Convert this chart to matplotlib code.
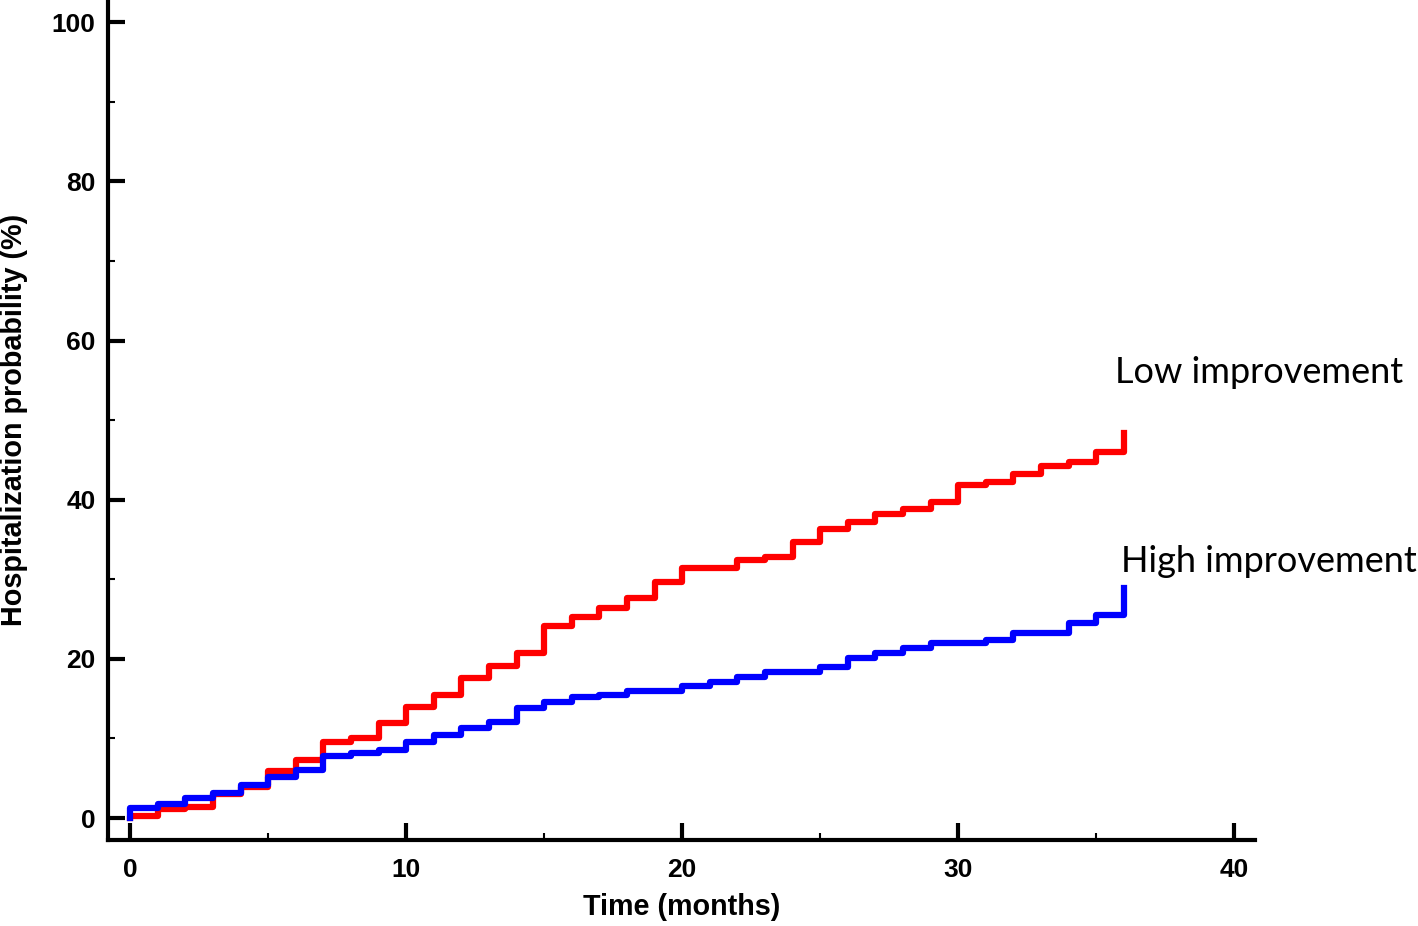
import matplotlib.pyplot as plt
from matplotlib.ticker import MultipleLocator

plt.rcParams['font.family'] = ['Liberation Sans', 'DejaVu Sans']

# months 0..36, cumulative hospitalization probability (%)
months = list(range(37))
low_improvement = [0.2, 1.1, 1.4, 3.0, 3.9, 5.9, 7.3, 9.5, 10.1, 12.0,
                   14.0, 15.4, 17.6, 19.1, 20.8, 24.1, 25.2, 26.4, 27.6, 29.7,
                   31.4, 31.4, 32.4, 32.8, 34.7, 36.3, 37.2, 38.2, 38.8, 39.7,
                   41.8, 42.2, 43.2, 44.3, 44.8, 46.0, 48.4]
high_improvement = [1.2, 1.8, 2.5, 3.2, 4.1, 5.2, 6.0, 7.8, 8.2, 8.6,
                    9.6, 10.4, 11.3, 12.1, 13.8, 14.6, 15.2, 15.5, 16.0, 16.0,
                    16.6, 17.1, 17.7, 18.3, 18.3, 19.0, 20.1, 20.7, 21.4, 22.0,
                    22.0, 22.4, 23.2, 23.2, 24.5, 25.5, 28.9]


def main():
    fig = plt.figure(figsize=(14.18, 9.26), dpi=100)
    ax = fig.add_axes([0.0762, 0.0929, 0.8089, 0.9071])

    ax.step([0] + months, [0] + low_improvement, where='post', color='#ff0000', lw=4.5)
    ax.step([0] + months, [0] + high_improvement, where='post', color='#0000ff', lw=4.5)

    ax.set_xlim(-0.8, 40.76)
    ax.set_ylim(-2.76, 102.8)

    ax.xaxis.set_major_locator(MultipleLocator(10))
    ax.xaxis.set_minor_locator(MultipleLocator(5))
    ax.yaxis.set_major_locator(MultipleLocator(20))
    ax.yaxis.set_minor_locator(MultipleLocator(10))

    for s in ['top', 'right']:
        ax.spines[s].set_visible(False)
    for s in ['left', 'bottom']:
        ax.spines[s].set_linewidth(3)

    ax.tick_params(which='major', direction='in', length=12, width=3, labelsize=19)
    ax.tick_params(axis='x', which='major', pad=13)
    ax.tick_params(axis='y', which='major', pad=9)
    ax.tick_params(which='minor', direction='in', length=5, width=1.5)
    for lab in ax.get_xticklabels() + ax.get_yticklabels():
        lab.set_fontweight('bold')

    ax.set_xlabel('Time (months)', fontsize=20.7, fontweight='bold', labelpad=8)
    ax.set_ylabel('Hospitalization probability (%)', fontsize=20.7, fontweight='bold', labelpad=17)

    ax.text(35.7, 56.0, 'Low improvement', fontsize=26, family='Lato', va='center', ha='left')
    ax.text(35.9, 32.2, 'High improvement', fontsize=26, family='Lato', va='center', ha='left')

    plt.savefig('out.png', dpi=100)


if __name__ == "__main__":
    main()
